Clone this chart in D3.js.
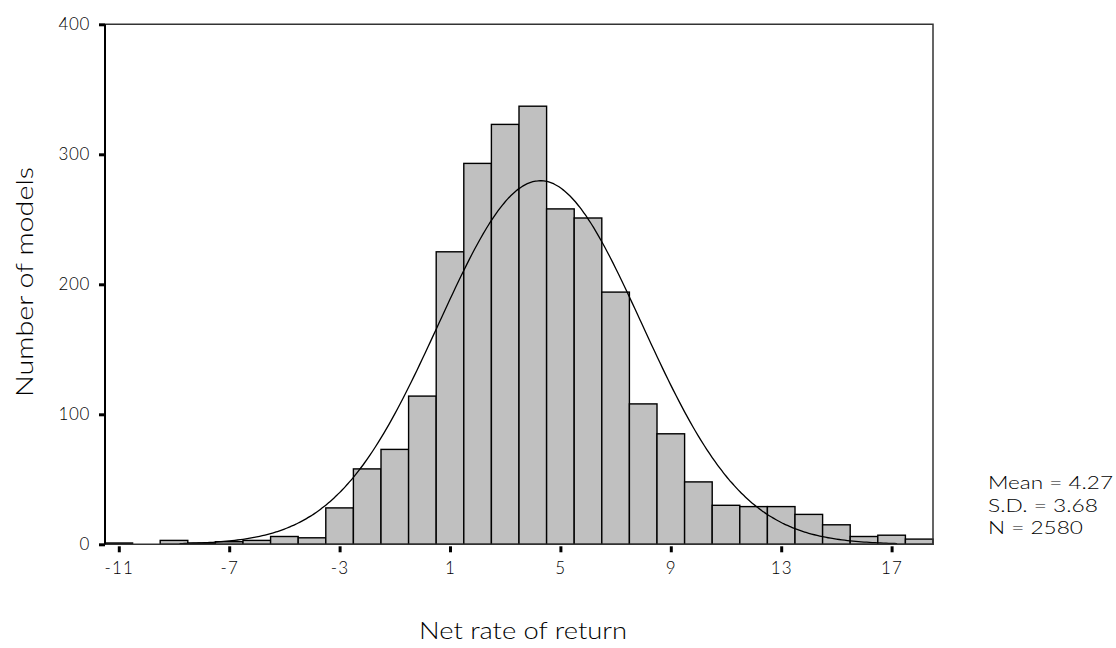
<!DOCTYPE html>
<html>
<head>
<meta charset="utf-8">
<script src="https://cdn.jsdelivr.net/npm/d3@7"></script>
<style>
  body { margin: 0; background: #fff; }
  svg text { font-family: Lato, "Open Sans", sans-serif; font-weight: 300; fill: #000; }
</style>
</head>
<body>
<svg id="chart"></svg>
<script>
// histogram bins (centered on integer net rate of return)
const binCenters = [-11, -10, -9, -8, -7, -6, -5, -4, -3, -2, -1, 0, 1, 2, 3, 4, 5, 6, 7, 8, 9, 10, 11, 12, 13, 14, 15, 16, 17, 18];
const binCounts  = [1, 0, 3, 1, 2, 3, 6, 5, 28, 58, 73, 114, 225, 293, 323, 337, 258, 251, 194, 108, 85, 48, 30, 29, 29, 23, 15, 6, 7, 4];
const xTicks = [-11, -7, -3, 1, 5, 9, 13, 17];
const yTicks = [0, 100, 200, 300, 400];
const statsMean = 4.27;
const statsSD = 3.68;
const statsN = 2580;
const statLines = ["Mean = 4.27", "S.D. = 3.68", "N = 2580"];

const width = 1116, height = 648;
const margin = { top: 24.3, right: 183, bottom: 103.7, left: 105 };

const svg = d3.select('#chart')
    .attr('width', width)
    .attr('height', height);

const x = d3.scaleLinear()
    .domain([-11.5, 18.5])
    .range([margin.left, width - margin.right]);

const y = d3.scaleLinear()
    .domain([0, 400])
    .range([height - margin.bottom, margin.top]);

// bars
svg.append('g')
    .selectAll('rect')
    .data(binCenters.map((c, i) => ({ c, n: binCounts[i] })).filter(d => d.n > 0))
    .join('rect')
    .attr('x', d => x(d.c - 0.5))
    .attr('y', d => y(d.n))
    .attr('width', d => x(d.c + 0.5) - x(d.c - 0.5))
    .attr('height', d => y(0) - y(d.n))
    .attr('fill', '#c0c0c0')
    .attr('stroke', '#000')
    .attr('stroke-width', 1.4);

// fitted normal curve from the reported mean / sd / N (bin width 1)
const curveXs = d3.range(-8.8, 17.21, 0.1);
const normal = v => statsN / (statsSD * Math.sqrt(2 * Math.PI)) * Math.exp(-0.5 * ((v - statsMean) / statsSD) ** 2);
svg.append('path')
    .datum(curveXs)
    .attr('d', d3.line().x(d => x(d)).y(d => y(normal(d))).curve(d3.curveBasis))
    .attr('fill', 'none')
    .attr('stroke', '#000')
    .attr('stroke-width', 1.3);

// frame
const [x0, x1] = x.range();
const [yb, yt] = y.range();
svg.append('path')
    .attr('d', `M${x0},${yb}H${x1}V${yt}H${x0}`)
    .attr('fill', 'none')
    .attr('stroke', '#333')
    .attr('stroke-width', 1.5);
svg.append('line')
    .attr('x1', x0).attr('x2', x0).attr('y1', yt).attr('y2', yb)
    .attr('stroke', '#000').attr('stroke-width', 2);

// y axis
const yAxis = svg.append('g')
    .attr('transform', `translate(${x0},0)`)
    .call(d3.axisLeft(y).tickValues(yTicks).tickSize(6).tickPadding(9).tickFormat(d => String(d)));
yAxis.select('.domain').remove();
yAxis.selectAll('.tick line').attr('stroke', '#000').attr('stroke-width', 3);
yAxis.selectAll('.tick text').attr('font-size', 17).attr('fill', '#000').attr('letter-spacing', 0.6);

// x axis
const xAxis = svg.append('g')
    .attr('transform', `translate(0,${yb + 2})`)
    .call(d3.axisBottom(x).tickValues(xTicks).tickSize(6).tickPadding(10).tickFormat(d => String(d)));
xAxis.select('.domain').remove();
xAxis.selectAll('.tick line').attr('stroke', '#000').attr('stroke-width', 3);
xAxis.selectAll('.tick text').attr('font-size', 17).attr('fill', '#000').attr('letter-spacing', 1.2);

// axis titles
svg.append('text')
    .attr('x', 523)
    .attr('y', 639)
    .attr('text-anchor', 'middle')
    .attr('font-size', 24)
    .attr('textLength', 208)
    .attr('lengthAdjust', 'spacingAndGlyphs')
    .text('Net rate of return');

svg.append('text')
    .attr('transform', 'translate(33,282) rotate(-90)')
    .attr('text-anchor', 'middle')
    .attr('font-size', 24)
    .attr('textLength', 230)
    .attr('lengthAdjust', 'spacingAndGlyphs')
    .text('Number of models');

// stats legend
const statWidths = [125, 110, 95];
svg.append('g')
    .selectAll('text')
    .data(statLines)
    .join('text')
    .attr('x', 988)
    .attr('y', (d, i) => 489 + i * 22.6)
    .attr('font-size', 18)
    .attr('textLength', (d, i) => statWidths[i])
    .attr('lengthAdjust', 'spacingAndGlyphs')
    .text(d => d);
</script>
</body>
</html>
